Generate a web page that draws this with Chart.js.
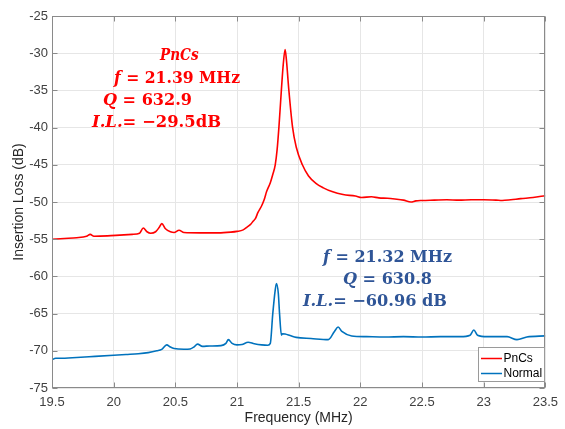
<!DOCTYPE html>
<html>
<head>
<meta charset="utf-8">
<script src="https://cdn.jsdelivr.net/npm/chart.js@4/dist/chart.umd.min.js"></script>
<style>
  html, body { margin: 0; padding: 0; background: #fff; }
  canvas { display: block; }
</style>
</head>
<body>
<canvas id="chart" width="565" height="429"></canvas>
<script>
// Axis ticks
const xTickValues = [19.5, 20, 20.5, 21, 21.5, 22, 22.5, 23, 23.5];
const xTickLabels = ['19.5', '20', '20.5', '21', '21.5', '22', '22.5', '23', '23.5'];
const yTickValues = [-75, -70, -65, -60, -55, -50, -45, -40, -35, -30, -25];
const yTickLabels = ['-75', '-70', '-65', '-60', '-55', '-50', '-45', '-40', '-35', '-30', '-25'];

// Series names
const seriesNames = ['PnCs', 'Normal'];

// PnCs resonator: frequency (MHz) and insertion loss (dB)
const freqPnCs = [
  19.50, 19.60, 19.70, 19.78, 19.81, 19.84, 19.95, 20.05, 20.15, 20.21,
  20.24, 20.27, 20.30, 20.34, 20.37, 20.39, 20.42, 20.46, 20.49, 20.53,
  20.57, 20.70, 20.85, 20.95, 21.00, 21.05, 21.08, 21.11, 21.13, 21.15,
  21.17, 21.20, 21.22, 21.24, 21.27, 21.29, 21.31, 21.325, 21.34, 21.36,
  21.375, 21.39, 21.40, 21.42, 21.45, 21.48, 21.53, 21.58, 21.64, 21.70,
  21.77, 21.86, 21.96, 22.01, 22.09, 22.15, 22.22, 22.28, 22.35, 22.41,
  22.45, 22.50, 22.60, 22.70, 22.80, 22.90, 23.00, 23.10, 23.15, 23.22,
  23.30, 23.40, 23.50
];
const lossPnCs = [
  -55.0, -54.9, -54.8, -54.6, -54.35, -54.6, -54.55, -54.45, -54.35, -54.2,
  -53.5, -54.0, -54.2, -54.0, -53.4, -52.9, -53.6, -54.0, -54.1, -53.8,
  -54.1, -54.15, -54.15, -54.05, -53.95, -53.75, -53.4, -53.0, -52.6, -52.2,
  -51.4, -50.5, -49.7, -48.6, -47.4, -46.3, -45.0, -43.0, -39.9, -34.9,
  -31.5, -29.5, -30.8, -34.9, -39.9, -42.6, -45.0, -46.5, -47.5, -48.1,
  -48.6, -49.0, -49.2, -49.4, -49.3, -49.45, -49.5, -49.6, -49.75, -50.0,
  -49.85, -49.8, -49.75, -49.7, -49.75, -49.7, -49.7, -49.75, -49.8, -49.7,
  -49.55, -49.4, -49.15
];

// Unstructured (normal) resonator
const freqNormal = [
  19.50, 19.53, 19.56, 19.70, 19.85, 20.00, 20.10, 20.20, 20.28, 20.35,
  20.39, 20.43, 20.46, 20.49, 20.57, 20.62, 20.65, 20.68, 20.72, 20.78,
  20.87, 20.91, 20.93, 20.96, 21.00, 21.04, 21.09, 21.14, 21.20, 21.25,
  21.27, 21.29, 21.31, 21.32, 21.335, 21.345, 21.36, 21.37, 21.39, 21.43,
  21.48, 21.60, 21.74, 21.79, 21.82, 21.85, 21.93, 22.05, 22.20, 22.35,
  22.50, 22.65, 22.81, 22.89, 22.92, 22.95, 23.03, 23.19, 23.27, 23.35,
  23.50
];
const lossNormal = [
  -71.2, -71.0, -71.0, -70.9, -70.75, -70.6, -70.5, -70.4, -70.25, -70.0,
  -69.8, -69.2, -69.5, -69.7, -69.8, -69.75, -69.5, -69.1, -69.4, -69.35,
  -69.3, -69.0, -68.5, -69.0, -69.2, -69.15, -68.85, -69.05, -69.2, -69.25,
  -69.0, -65.0, -61.8, -60.96, -62.3, -65.0, -67.9, -67.7, -67.75, -67.95,
  -68.2, -68.35, -68.5, -67.4, -66.8, -67.4, -68.0, -68.1, -68.15, -68.1,
  -68.15, -68.1, -68.1, -67.9, -67.2, -67.9, -68.1, -68.1, -68.5, -68.15,
  -68.0
];

// Quality factors
const qPnCs = 632.9;
const qNormal = 630.8;

const colorPnCs = '#ff0000';
const colorNormal = '#0072bd';
const axisColor = '#8a8a8a';
const sansFont = '"Liberation Sans", Arial, sans-serif';
const mathFont = '"DejaVu Serif", serif';

function peakOf(freq, loss) {
  let k = 0;
  for (let i = 1; i < loss.length; i++) if (loss[i] > loss[k]) k = i;
  return { f: freq[k], il: loss[k] };
}
const fmtNeg = v => String(v).replace('-', '\u2212');

const peakPnCs = peakOf(freqPnCs, lossPnCs);
const peakNormal = peakOf(freqNormal, lossNormal);

// Text blocks: each line is a list of [text, italic] runs
const notes = [
  {
    color: '#ff0000',
    lines: [
      { left: 160, y: 56, w: 38, runs: [['PnCs', true]] },
      { left: 114, y: 79, w: 126, runs: [['f', true], [' = ', false], [peakPnCs.f.toFixed(2) + ' MHz', false]] },
      { left: 103, y: 101, w: 89, runs: [['Q', true], [' = ', false], [String(qPnCs), false]] },
      { left: 92, y: 123, w: 129, runs: [['I.L.', true], ['= ', false], [fmtNeg(peakPnCs.il) + 'dB', false]] }
    ]
  },
  {
    color: '#2f5597',
    lines: [
      { left: 323, y: 258, w: 129, runs: [['f', true], [' = ', false], [peakNormal.f.toFixed(2) + ' MHz', false]] },
      { left: 343, y: 280, w: 89, runs: [['Q', true], [' = ', false], [String(qNormal), false]] },
      { left: 303, y: 302, w: 144, runs: [['I.L.', true], ['= ', false], [fmtNeg(peakNormal.il) + ' dB', false]] }
    ]
  }
];

function runFont(italic) {
  return (italic ? 'italic ' : '') + 'bold 16px ' + mathFont;
}

const framePlugin = {
  id: 'frame',
  afterDraw(chart) {
    const { ctx, chartArea: a, scales } = chart;
    ctx.save();

    // Axes box with inward ticks on all sides
    ctx.strokeStyle = axisColor;
    ctx.lineWidth = 1;
    const L = Math.round(a.left) + 0.5, R = Math.round(a.right) - 0.5;
    const T = Math.round(a.top) + 0.5, B = Math.round(a.bottom) - 0.5;
    ctx.strokeRect(L, T, R - L, B - T);
    const tl = 5;
    ctx.beginPath();
    xTickValues.forEach(v => {
      const px = Math.round(scales.x.getPixelForValue(v)) + 0.5;
      ctx.moveTo(px, B); ctx.lineTo(px, B - tl);
      ctx.moveTo(px, T); ctx.lineTo(px, T + tl);
    });
    yTickValues.forEach(v => {
      const py = Math.round(scales.y.getPixelForValue(v)) + 0.5;
      ctx.moveTo(L, py); ctx.lineTo(L + tl, py);
      ctx.moveTo(R, py); ctx.lineTo(R - tl, py);
    });
    ctx.stroke();

    // Resonance annotations
    ctx.textBaseline = 'middle';
    ctx.textAlign = 'left';
    notes.forEach(block => {
      ctx.fillStyle = block.color;
      block.lines.forEach(line => {
        let total = 0;
        const widths = line.runs.map(([t, it]) => {
          ctx.font = runFont(it);
          const w = ctx.measureText(t).width;
          total += w;
          return w;
        });
        const sx = Math.max(0.85, Math.min(1.15, line.w / total));
        ctx.save();
        ctx.translate(line.left, line.y);
        ctx.scale(sx, 1);
        let x = 0;
        line.runs.forEach(([t, it], i) => {
          ctx.font = runFont(it);
          ctx.fillText(t, x, 0);
          x += widths[i];
        });
        ctx.restore();
      });
    });

    // Legend box
    const lx = 478.5, ly = 347.5, lw = 66, lh = 34;
    ctx.fillStyle = '#ffffff';
    ctx.fillRect(lx, ly, lw, lh);
    ctx.strokeStyle = '#9a9a9a';
    ctx.strokeRect(lx, ly, lw, lh);
    ctx.font = '12px ' + sansFont;
    ctx.textBaseline = 'middle';
    chart.data.datasets.forEach((ds, i) => {
      const y = ly + 11 + i * 15;
      ctx.strokeStyle = ds.borderColor;
      ctx.lineWidth = 1.5;
      ctx.beginPath();
      ctx.moveTo(lx + 2.5, y); ctx.lineTo(lx + 23.5, y);
      ctx.stroke();
      ctx.fillStyle = '#000000';
      ctx.fillText(ds.label, lx + 25, y);
    });

    ctx.restore();
  }
};

const toPoints = (xs, ys) => xs.map((x, i) => ({ x, y: ys[i] }));

new Chart(document.getElementById('chart'), {
  type: 'scatter',
  data: {
    datasets: [
      {
        label: seriesNames[0],
        data: toPoints(freqPnCs, lossPnCs),
        showLine: true,
        borderColor: colorPnCs,
        backgroundColor: colorPnCs,
        borderWidth: 1.6,
        pointRadius: 0,
        cubicInterpolationMode: 'monotone'
      },
      {
        label: seriesNames[1],
        data: toPoints(freqNormal, lossNormal),
        showLine: true,
        borderColor: colorNormal,
        backgroundColor: colorNormal,
        borderWidth: 1.6,
        pointRadius: 0,
        cubicInterpolationMode: 'monotone'
      }
    ]
  },
  options: {
    responsive: false,
    animation: false,
    events: [],
    layout: { padding: { top: 16, right: 13, left: 0, bottom: 0 } },
    plugins: {
      legend: { display: false },
      tooltip: { enabled: false }
    },
    scales: {
      x: {
        type: 'linear',
        min: 19.5,
        max: 23.5,
        afterBuildTicks(scale) { scale.ticks = xTickValues.map(value => ({ value })); },
        afterFit(scale) { scale.height = 41; },
        grid: { color: '#e6e6e6', drawTicks: false },
        border: { display: false },
        ticks: {
          callback: (v, i) => xTickLabels[i],
          color: '#404040',
          font: { family: sansFont, size: 13 },
          padding: 7,
          maxRotation: 0,
          autoSkip: false
        },
        title: {
          display: true,
          text: 'Frequency (MHz)',
          color: '#262626',
          font: { family: sansFont, size: 14 },
          padding: { top: 0, bottom: 2 }
        }
      },
      y: {
        type: 'linear',
        min: -75,
        max: -25,
        afterBuildTicks(scale) { scale.ticks = yTickValues.map(value => ({ value })); },
        afterFit(scale) { scale.width = 52; },
        grid: { color: '#e6e6e6', drawTicks: false },
        border: { display: false },
        ticks: {
          callback: (v, i) => yTickLabels[i],
          color: '#404040',
          font: { family: sansFont, size: 13 },
          padding: 4,
          autoSkip: false
        },
        title: {
          display: true,
          text: 'Insertion Loss (dB)',
          color: '#262626',
          font: { family: sansFont, size: 14 },
          padding: { top: 11, bottom: 0 }
        }
      }
    }
  },
  plugins: [framePlugin]
});
</script>
</body>
</html>
